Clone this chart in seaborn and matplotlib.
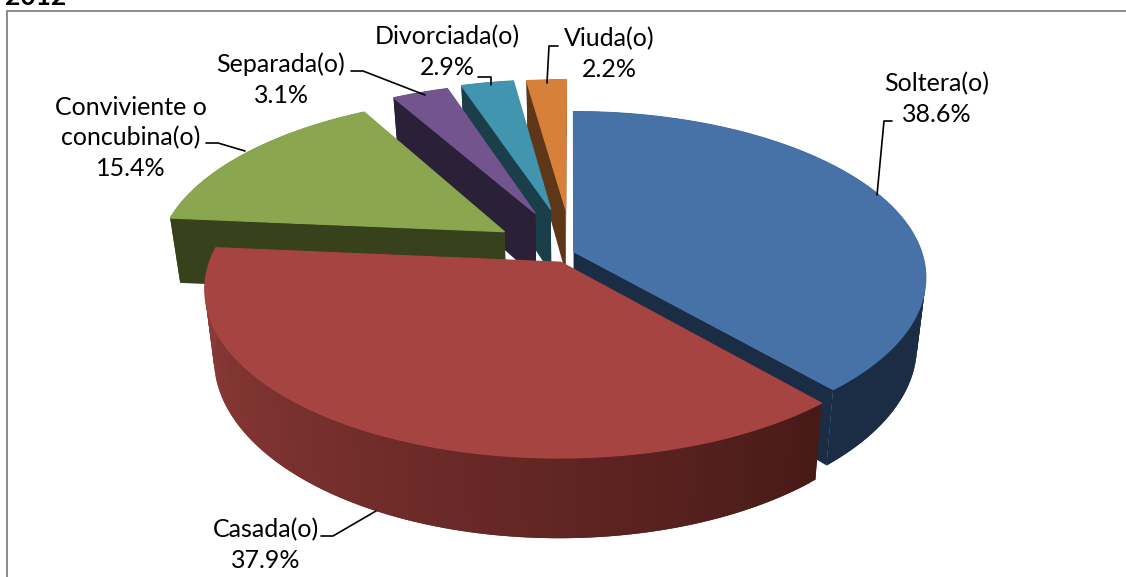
import numpy as np
import matplotlib
matplotlib.use("Agg")
import matplotlib.pyplot as plt
import seaborn as sns

# Data
labels = ['Soltera(o)', 'Casada(o)', 'Conviviente o\nconcubina(o)', 'Separada(o)', 'Divorciada(o)', 'Viuda(o)']
values = [38.6, 37.9, 15.4, 3.1, 2.9, 2.2]
explode = [0.005, 0.07, 0.235, 0.27, 0.28, 0.275]
top_colors = ['#4672a8', '#a64442', '#8aa64e', '#73548f', '#4195ae', '#d78039']
side_colors = ['#1a2d45', '#4a1c18', '#37421c', '#2a2138', '#1a3f4b', '#5d3717']
draw_order = [5, 4, 3, 2, 0, 1]

# 3D look of the pie
cx, cy = 572, 252
rx, ry = 348, 162
persp = 0.155
depth = 67
shrink = 0.025

sns.set_theme(style='white')
plt.rcParams['font.family'] = ['Lato', 'DejaVu Sans']

fig = plt.figure(figsize=(11.26, 5.77), dpi=100)
ax = fig.add_axes([0, 0, 1, 1])
ax.set_xlim(0, 1126)
ax.set_ylim(577, 0)
ax.axis('off')


def project(u, v, z=0.0):
    s = 1 / (1 + persp * v)
    x = cx + rx * u * s * (1 - shrink * z)
    y = cy - ry * v * s + depth * z * s
    return x, y


def wall_color(t):
    # Casada wall: dark at the right end, quickly lighter towards the left
    stops = [0, 0.35, 0.7, 1]
    cols = np.array([matplotlib.colors.to_rgb(c) for c in ['#471a17', '#652724', '#7f3432', '#8e3d39']])
    return tuple(np.interp(t, stops, cols[:, n]) for n in range(3))


total = sum(values)
edges = np.cumsum([0] + values) / total * 2 * np.pi

for i in draw_order:
    a0, a1 = edges[i], edges[i + 1]
    mid = (a0 + a1) / 2
    du, dv = explode[i] * np.sin(mid), explode[i] * np.cos(mid)
    ang = np.linspace(a0, a1, 120)
    u = du + np.sin(ang)
    v = dv + np.cos(ang)

    # radial side faces
    for a in (a0, a1):
        eu, ev = du + np.sin(a), dv + np.cos(a)
        pts = [project(du, dv), project(eu, ev), project(eu, ev, 1), project(du, dv, 1)]
        ax.fill(*zip(*pts), color=side_colors[i], lw=0)

    # outer curved wall, in overlapping strips so it can be shaded
    for k in range(len(ang) - 1):
        n = min(k + 2, len(ang) - 1)
        pts = [project(u[k], v[k]), project(u[n], v[n]), project(u[n], v[n], 1), project(u[k], v[k], 1)]
        color = side_colors[i]
        if i == 1:
            color = wall_color(k / (len(ang) - 2))
        ax.fill(*zip(*pts), color=color, lw=0)

    # top face
    xs, ys = project(np.r_[du, u], np.r_[dv, v])
    ax.fill(xs, ys, color=top_colors[i], lw=0.8)

# chart frame and the cut off title above it
ax.plot([1126, 7, 7], [11, 11, 577], color='#8a8a8a', lw=1.4, clip_on=False)
ax.text(5, 5, '2012', fontsize=19, fontweight='bold', color='black', va='baseline')

# labels
label_pos = [(937, 99), (266, 545), (131, 138), (281, 80), (447, 52), (609, 54)]
for name, val, (x, y) in zip(labels, values, label_pos):
    ax.text(x, y, f'{name}\n{val:.1f}%', ha='center', va='center', fontsize=18,
            color='black', linespacing=1.4)

# leader lines
leaders = [
    ([892, 884, 877], [121, 121, 195]),
    ([321, 333, 376], [536, 536, 511]),
    ([206, 218, 245], [143, 143, 151]),
    ([351, 363, 425], [71, 71, 95]),
    ([478, 491, 491], [77, 77, 85]),
    ([558, 549, 547], [46, 46, 83]),
]
for xs, ys in leaders:
    ax.plot(xs, ys, color='black', lw=1.2)

plt.savefig('out.png', dpi=100)
